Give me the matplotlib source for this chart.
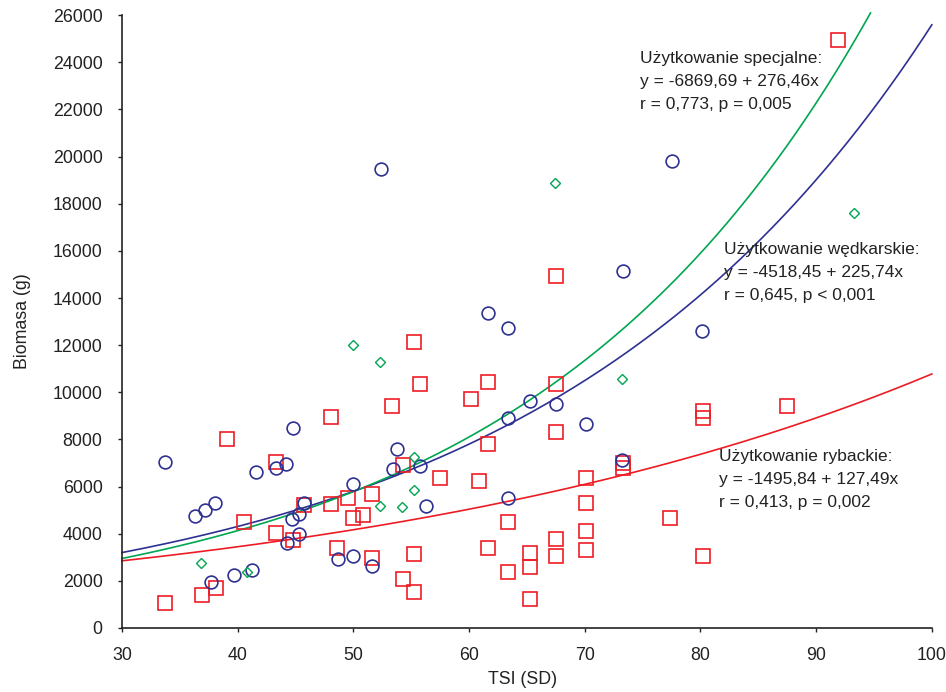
import numpy as np
import matplotlib
matplotlib.use("Agg")
import matplotlib.pyplot as plt

plt.rcParams['font.family'] = ['Liberation Sans', 'DejaVu Sans']

# --- data ---
# Użytkowanie wędkarskie (blue circles)
wed_x = [33.7, 36.3, 37.2, 38.0, 37.7, 39.7, 41.2, 41.6, 43.3, 44.2, 44.8, 44.3,
         44.7, 45.3, 45.3, 45.7, 48.7, 50.0, 50.0, 51.6, 52.4, 53.4, 53.8, 55.8,
         56.3, 61.6, 63.4, 63.4, 63.4, 65.3, 67.5, 70.1, 73.2, 73.3, 77.5, 80.1]
wed_y = [7040, 4750, 5010, 5300, 1950, 2250, 2460, 6620, 6790, 6960, 8490, 3610,
         4620, 4840, 3990, 5300, 2930, 3050, 6110, 2630, 19470, 6750, 7600, 6870,
         5180, 13370, 12730, 8910, 5520, 9630, 9500, 8660, 7130, 15150, 19810, 12600]

# Użytkowanie rybackie (red squares)
ryb_x = [33.7, 36.9, 38.1, 39.1, 40.5, 43.3, 43.3, 44.8, 45.7, 55.2, 48.1, 55.8,
         53.3, 60.2, 61.6, 67.5, 67.5, 61.6, 54.3, 57.5, 60.9, 70.1, 70.1, 70.1,
         70.1, 48.1, 49.5, 51.6, 50.0, 50.8, 63.4, 48.6, 51.6, 55.2, 61.6, 65.3,
         65.3, 67.5, 67.5, 63.4, 54.3, 55.2, 65.3, 73.3, 73.3, 80.2, 80.2, 87.5,
         77.4, 80.2, 91.9, 67.5]
ryb_y = [1060, 1400, 1700, 8020, 4500, 7040, 4030, 3730, 5220, 12140, 8950, 10350,
         9420, 9720, 10440, 10350, 8320, 7810, 6920, 6360, 6240, 6360, 5300, 4120,
         3310, 5260, 5520, 5690, 4670, 4800, 4500, 3390, 2970, 3140, 3390, 3180,
         2590, 3780, 3050, 2380, 2080, 1530, 1230, 7000, 6790, 9210, 8910, 9420,
         4670, 3050, 24950, 14940]

# Użytkowanie specjalne (green diamonds)
spe_x = [36.8, 40.8, 50.0, 52.3, 55.2, 55.2, 52.3, 54.2, 73.2, 67.4, 93.3]
spe_y = [2760, 2380, 12010, 11290, 7260, 5860, 5180, 5140, 10560, 18880, 17610]

# fitted curves (exponential shape): y = a*exp(b*x)
ryb_fit = (1612.0, 0.0190, 30, 100)
wed_fit = (1313.0, 0.0297, 30, 100)
spe_fit = (1073.0, 0.0337, 30, 94.7)

x_ticks = [30, 40, 50, 60, 70, 80, 90, 100]
y_ticks = list(range(0, 26001, 2000))

labels = {
    'spe': "Użytkowanie specjalne:\ny = -6869,69 + 276,46x\nr = 0,773, p = 0,005",
    'wed': "Użytkowanie wędkarskie:\ny = -4518,45 + 225,74x\nr = 0,645, p < 0,001",
    'ryb': "Użytkowanie rybackie:\ny = -1495,84 + 127,49x\nr = 0,413, p = 0,002",
}

BLUE = '#2e3192'
RED = '#ed1c24'
GREEN = '#00a651'
TXT = '#222222'

fig = plt.figure(figsize=(9.46, 6.92), dpi=100)
ax = fig.add_axes([0.129, 0.0925, 0.856, 0.8855])

def curve(p):
    a, b, x0, x1 = p
    xs = np.linspace(x0, x1, 300)
    return xs, a * np.exp(b * xs)

for p, c in [(ryb_fit, RED), (wed_fit, BLUE), (spe_fit, GREEN)]:
    xs, ys = curve(p)
    ax.plot(xs, ys, color=c, lw=1.2, clip_on=False, zorder=2)

ax.plot(ryb_x, ryb_y, 's', ms=9.5, mfc='none', mec=RED, mew=1.2, ls='none', zorder=3)
ax.plot(wed_x, wed_y, 'o', ms=9.2, mfc='none', mec=BLUE, mew=1.2, ls='none', zorder=3)
ax.plot(spe_x, spe_y, 'D', ms=5, mfc='none', mec=GREEN, mew=1.0, ls='none', zorder=3)

ax.set_xlim(30, 100)
ax.set_ylim(0, 26000)
ax.set_xticks(x_ticks)
ax.set_yticks(y_ticks)
ax.set_xticklabels([str(v) for v in x_ticks])
ax.set_yticklabels([str(v) for v in y_ticks])
for s in ['top', 'right']:
    ax.spines[s].set_visible(False)
for s in ['left', 'bottom']:
    ax.spines[s].set_linewidth(1.2)
    ax.spines[s].set_color(TXT)
ax.tick_params(axis='both', direction='out', length=3, width=1.0, labelsize=12.8,
               colors=TXT)
ax.tick_params(axis='y', pad=11)
ax.tick_params(axis='x', pad=11)

ax.set_xlabel("TSI (SD)", fontsize=12.8, color=TXT)
ax.set_ylabel("Biomasa (g)", fontsize=12.8, color=TXT)
ax.xaxis.set_label_coords(0.494, -0.070)
ax.yaxis.set_label_coords(-0.112, 0.5)

for key, (px, py) in {'spe': (640, 51), 'wed': (724, 242), 'ryb': (719, 449)}.items():
    fig.text(px / 946, 1 - py / 692, labels[key], fontsize=12.5, color=TXT,
             va='top', ha='left', linespacing=1.66)

fig.savefig("out.png", dpi=100)
